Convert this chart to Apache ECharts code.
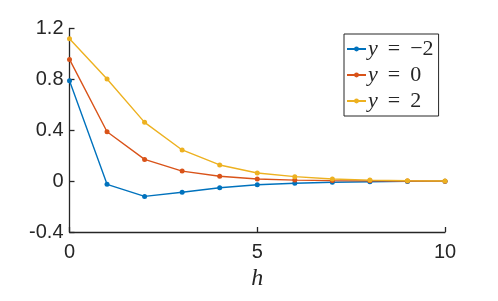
<!DOCTYPE html>
<html><head><meta charset="utf-8">
<script src="https://cdn.jsdelivr.net/npm/echarts@6/dist/echarts.min.js"></script>
<style>html,body{margin:0;padding:0;background:#fff}#c{width:498px;height:301px}</style>
</head><body><div id="c"></div>
<script>
const hValues = [0,1,2,3,4,5,6,7,8,9,10];
const seriesNames = ['y = \u22122', 'y = 0', 'y = 2'];
const yNeg2 = [0.79, -0.025, -0.12, -0.088, -0.052, -0.028, -0.017, -0.009, -0.005, -0.002, 0.0];
const y0 = [0.957, 0.388, 0.171, 0.079, 0.038, 0.017, 0.008, 0.004, 0.002, 0.001, 0.0];
const y2 = [1.12, 0.803, 0.462, 0.245, 0.127, 0.064, 0.035, 0.017, 0.008, 0.003, 0.001];
const yTicks = [-0.4, 0, 0.4, 0.8, 1.2];
const xTicks = [0, 5, 10];
const colors = ['#0072BD', '#D95319', '#EDB120'];
const allSeries = [yNeg2, y0, y2];

const chart = echarts.init(document.getElementById('c'), null, {renderer: 'canvas'});
const axisColor = '#262626';
chart.setOption({
  animation: false,
  color: colors,
  grid: {left: 69.5, right: 53, top: 28.5, bottom: 69, containLabel: false},
  xAxis: {
    type: 'value', min: xTicks[0], max: xTicks[xTicks.length-1], interval: 5,
    name: 'h', nameLocation: 'middle', nameGap: 32,
    nameTextStyle: {fontFamily: 'Liberation Serif', fontStyle: 'italic', fontSize: 24, color: axisColor},
    axisLine: {onZero: false, lineStyle: {color: axisColor, width: 1.3}},
    axisTick: {inside: true, length: 5, lineStyle: {color: axisColor, width: 1.3}},
    axisLabel: {fontFamily: 'Liberation Sans', fontSize: 20, color: axisColor, margin: 10},
    splitLine: {show: false}
  },
  yAxis: {
    type: 'value', min: yTicks[0], max: yTicks[yTicks.length-1], interval: 0.4,
    axisLine: {show: true, onZero: false, lineStyle: {color: axisColor, width: 1.3}},
    axisTick: {show: true, inside: true, length: 5, lineStyle: {color: axisColor, width: 1.3}},
    axisLabel: {fontFamily: 'Liberation Sans', fontSize: 20, color: axisColor, margin: 6,
      formatter: v => { const r = Math.round(v*10)/10; return r === 0 ? '0' : String(r); }},
    splitLine: {show: false}
  },
  legend: {
    orient: 'vertical', left: 344, top: 34,
    padding: [4, 5, 4, 2],
    borderColor: '#262626', borderWidth: 1, backgroundColor: '#fff',
    itemWidth: 19, itemHeight: 6, itemGap: 4,
    data: seriesNames,
    formatter: name => {
      const rest = name.split('=')[1].trim();
      return '{i|y}{e|=}{n|' + rest + '}';
    },
    textStyle: {
      padding: [0,0,0,-3],
      rich: {
        i: {fontFamily: 'Liberation Serif', fontStyle: 'italic', fontSize: 22, color: '#262626'},
        e: {fontFamily: 'Liberation Serif', fontSize: 22, color: '#262626', padding: [0, 10]},
        n: {fontFamily: 'Liberation Serif', fontSize: 22, color: '#262626'}
      }
    }
  },
  series: allSeries.map((vals, i) => ({
    name: seriesNames[i], type: 'line',
    data: hValues.map((h, j) => [h, vals[j]]),
    symbol: 'circle', symbolSize: 5, showSymbol: true,
    lineStyle: {width: 1.4, color: colors[i]},
    itemStyle: {color: colors[i]},
    z: 2 + i
  }))
});
</script></body></html>
